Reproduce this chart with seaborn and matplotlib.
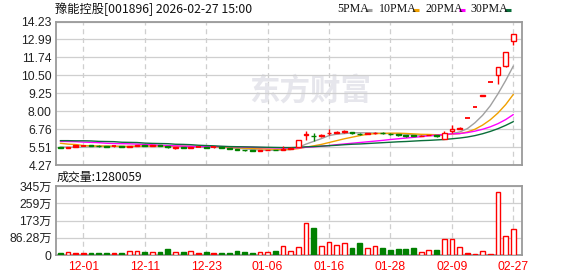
import numpy as np
import pandas as pd
import matplotlib
matplotlib.use('Agg')
import matplotlib.pyplot as plt
from matplotlib.patches import Rectangle
from matplotlib.lines import Line2D
import seaborn as sns

sns.set_style("white")
plt.rcParams['font.family'] = ['Liberation Sans', 'Noto Sans CJK SC', 'DejaVu Sans']

# ================= 数据 =================
trade_dates = ['11-26', '11-27', '11-28', '12-01', '12-02', '12-03', '12-04', '12-05', '12-08', '12-09',
               '12-10', '12-11', '12-12', '12-15', '12-16', '12-17', '12-18', '12-19', '12-22', '12-23',
               '12-24', '12-25', '12-26', '12-29', '12-30', '12-31', '01-05', '01-06', '01-07', '01-08',
               '01-09', '01-12', '01-13', '01-14', '01-15', '01-16', '01-19', '01-20', '01-21', '01-22',
               '01-23', '01-26', '01-27', '01-28', '01-29', '01-30', '02-02', '02-03', '02-04', '02-05',
               '02-06', '02-09', '02-10', '02-11', '02-12', '02-13', '02-24', '02-25', '02-26', '02-27']

open_px = [5.49, 5.46, 5.64, 5.63, 5.64, 5.60, 5.58, 5.57, 5.57, 5.54,
           5.60, 5.65, 5.59, 5.63, 5.60, 5.42, 5.50, 5.47, 5.53, 5.52,
           5.50, 5.49, 5.45, 5.40, 5.33, 5.28, 5.26, 5.29, 5.33, 5.30,
           5.38, 5.55, 6.33, 6.28, 6.28, 6.48, 6.50, 6.55, 6.56, 6.44,
           6.41, 6.46, 6.50, 6.45, 6.40, 6.34, 6.36, 6.28, 6.34, 6.33,
           6.08, 6.64, 6.80, 7.55, 8.30, 9.08, 10.04, 10.55, 11.12, 12.88]
high_px = [5.50, 5.53, 5.66, 5.64, 5.65, 5.63, 5.59, 5.58, 5.58, 5.62,
           5.68, 5.67, 5.64, 5.65, 5.61, 5.52, 5.52, 5.53, 5.55, 5.53,
           5.51, 5.50, 5.46, 5.41, 5.34, 5.29, 5.30, 5.33, 5.34, 5.60,
           5.50, 6.03, 6.63, 6.50, 6.44, 6.74, 6.62, 6.70, 6.58, 6.48,
           6.50, 6.58, 6.55, 6.47, 6.42, 6.36, 6.38, 6.33, 6.38, 6.35,
           6.60, 7.06, 6.92, 7.55, 8.30, 9.13, 10.04, 11.04, 12.14, 13.35]
low_px = [5.44, 5.45, 5.50, 5.58, 5.57, 5.55, 5.53, 5.54, 5.52, 5.53,
          5.59, 5.59, 5.58, 5.58, 5.48, 5.41, 5.46, 5.46, 5.50, 5.46,
          5.47, 5.44, 5.40, 5.31, 5.26, 5.21, 5.25, 5.28, 5.28, 5.29,
          5.36, 5.53, 6.00, 5.95, 6.18, 6.36, 6.47, 6.52, 6.44, 6.33,
          6.39, 6.43, 6.40, 6.38, 6.25, 6.20, 6.26, 6.26, 6.32, 6.20,
          6.04, 6.50, 6.76, 7.55, 8.30, 9.05, 10.04, 9.88, 11.05, 12.62]
close_px = [5.46, 5.50, 5.52, 5.62, 5.59, 5.57, 5.55, 5.56, 5.54, 5.60,
            5.66, 5.61, 5.63, 5.60, 5.49, 5.50, 5.47, 5.51, 5.52, 5.48,
            5.49, 5.45, 5.41, 5.33, 5.28, 5.26, 5.29, 5.32, 5.30, 5.37,
            5.48, 6.03, 6.40, 6.25, 6.33, 6.52, 6.55, 6.62, 6.47, 6.40,
            6.46, 6.52, 6.46, 6.42, 6.36, 6.30, 6.28, 6.31, 6.37, 6.25,
            6.52, 6.78, 6.86, 7.55, 8.30, 9.13, 10.04, 11.04, 12.14, 13.35]

# 成交量 (万)
volume_wan = [10, 13, 10, 10, 10, 10, 10, 10, 10, 18,
              18, 15, 13, 15, 30, 13, 15, 18, 10, 15,
              10, 10, 10, 19, 15, 10, 13, 13, 20, 43,
              18, 40, 158, 134, 47, 67, 52, 62, 37, 60,
              37, 47, 37, 24, 28, 28, 33, 17, 23, 23,
              78, 82, 42, 9, 4, 22, 4, 317, 97, 128.0059]

ma5 = [5.52, 5.51, 5.50, 5.52, 5.54, 5.56, 5.57, 5.58, 5.56, 5.56,
       5.58, 5.59, 5.61, 5.62, 5.60, 5.57, 5.54, 5.51, 5.50, 5.50,
       5.49, 5.49, 5.47, 5.43, 5.39, 5.35, 5.31, 5.30, 5.29, 5.31,
       5.35, 5.50, 5.72, 5.91, 6.10, 6.31, 6.41, 6.45, 6.50, 6.51,
       6.50, 6.49, 6.46, 6.45, 6.44, 6.41, 6.36, 6.33, 6.32, 6.30,
       6.35, 6.45, 6.56, 6.79, 7.20, 7.72, 8.38, 9.21, 10.13, 11.14]
ma10 = [5.78, 5.72, 5.69, 5.62, 5.60, 5.59, 5.58, 5.57, 5.56, 5.55,
        5.57, 5.58, 5.59, 5.59, 5.58, 5.57, 5.57, 5.56, 5.56, 5.55,
        5.53, 5.51, 5.49, 5.47, 5.44, 5.42, 5.40, 5.38, 5.36, 5.35,
        5.35, 5.41, 5.51, 5.60, 5.70, 5.83, 5.96, 6.09, 6.20, 6.31,
        6.40, 6.45, 6.46, 6.48, 6.48, 6.46, 6.43, 6.40, 6.39, 6.37,
        6.38, 6.41, 6.45, 6.56, 6.75, 7.04, 7.41, 7.88, 8.46, 9.17]
ma20 = [5.91, 5.90, 5.89, 5.86, 5.84, 5.82, 5.78, 5.76, 5.75, 5.74,
        5.72, 5.69, 5.67, 5.64, 5.62, 5.60, 5.58, 5.57, 5.56, 5.55,
        5.55, 5.55, 5.54, 5.53, 5.51, 5.50, 5.48, 5.47, 5.46, 5.45,
        5.44, 5.46, 5.50, 5.53, 5.57, 5.62, 5.68, 5.73, 5.78, 5.83,
        5.88, 5.93, 5.98, 6.04, 6.09, 6.14, 6.19, 6.24, 6.30, 6.34,
        6.39, 6.43, 6.45, 6.52, 6.62, 6.75, 6.92, 7.14, 7.42, 7.77]
ma30 = [5.96, 5.96, 5.95, 5.95, 5.94, 5.91, 5.90, 5.89, 5.85, 5.84,
        5.83, 5.79, 5.77, 5.76, 5.75, 5.71, 5.70, 5.68, 5.64, 5.62,
        5.60, 5.57, 5.55, 5.54, 5.53, 5.52, 5.51, 5.50, 5.49, 5.48,
        5.48, 5.50, 5.53, 5.55, 5.58, 5.61, 5.64, 5.68, 5.71, 5.73,
        5.76, 5.79, 5.82, 5.85, 5.88, 5.90, 5.93, 5.96, 5.98, 6.01,
        6.04, 6.09, 6.14, 6.21, 6.31, 6.44, 6.60, 6.79, 7.02, 7.28]

price_ticks = [4.27, 5.51, 6.76, 8.00, 9.25, 10.50, 11.74, 12.99, 14.23]
vol_ticks = [0, 86.28, 172.5, 258.75, 345]
vol_tick_labels = ['0', '86.28万', '173万', '259万', '345万']
date_ticks = ['12-01', '12-11', '12-23', '01-06', '01-16', '01-28', '02-09', '02-27']

title_text = '豫能控股[001896] 2026-02-27 15:00'
vol_title = '成交量:1280059'
ma_names = ['5PMA', '10PMA', '20PMA', '30PMA']

# ================= 样式 =================
RED = '#ff0000'
GREEN = '#008000'
MA_COLORS = ['#a0a0a0', '#f0a000', '#ff00ff', '#0a6e3a']
FRAME = '#9a9a9a'
GRID = '#cfcfcf'

df = pd.DataFrame({'date': trade_dates, 'open': open_px, 'high': high_px, 'low': low_px,
                   'close': close_px, 'vol': volume_wan,
                   'ma5': ma5, 'ma10': ma10, 'ma20': ma20, 'ma30': ma30})
df['x'] = np.arange(len(df))
prev_close = df['close'].shift(1).fillna(df['open'])
df['up'] = df['close'] >= prev_close
df['hollow'] = df['up'] & (df['close'] > df['open'])
df['color'] = np.where(df['up'], RED, GREEN)

W, H = 578, 276
fig = plt.figure(figsize=(W / 100, H / 100), dpi=100)
ax_p = fig.add_axes([56 / W, 1 - 165 / H, 466 / W, 143.5 / H])
ax_v = fig.add_axes([56 / W, 1 - 255 / H, 466 / W, 69 / H], sharex=ax_p)

tick_pos = [trade_dates.index(d) for d in date_ticks]

for ax in (ax_p, ax_v):
    for s in ax.spines.values():
        s.set_color(FRAME)
        s.set_linewidth(1.3)
    ax.tick_params(length=0)
    for t in tick_pos:
        ax.axvline(t, color=GRID, lw=0.9, ls=(0, (4, 3)), zorder=0)

# 水印
ax_p.text(0.545, 0.52, '东方财富', transform=ax_p.transAxes, ha='center', va='center',
          fontsize=22, fontweight='bold', color='#e6e6ec', family=['Noto Sans CJK SC'], zorder=0)

# --- K线 ---
bw = 0.62
for _, r in df.iterrows():
    ax_p.vlines(r['x'], r['low'], r['high'], color=r['color'], lw=1.0, zorder=3)
    lo = min(r['open'], r['close'])
    hi = max(r['open'], r['close'])
    if hi - lo < 0.02:
        ax_p.hlines(lo, r['x'] - bw / 2, r['x'] + bw / 2, color=r['color'], lw=1.3, zorder=4)
    else:
        face = 'white' if r['hollow'] else r['color']
        ax_p.add_patch(Rectangle((r['x'] - bw / 2, lo), bw, hi - lo, facecolor=face,
                                 edgecolor=r['color'], lw=1.0, zorder=4))

# --- 均线 ---
for col, c in zip(['ma5', 'ma10', 'ma20', 'ma30'], MA_COLORS):
    sns.lineplot(data=df, x='x', y=col, ax=ax_p, color=c, lw=1.0, legend=False, zorder=2)

ax_p.set_ylim(price_ticks[0], price_ticks[-1])
ax_p.set_xlim(-0.56, 60.13)
ax_p.set_yticks(price_ticks)
ax_p.set_yticklabels([f'{v:.2f}' for v in price_ticks], fontsize=8.7, color='#222222')
ax_p.yaxis.grid(True, color=GRID, lw=0.9, ls='-')
ax_p.set_axisbelow(True)
ax_p.set_xlabel('')
ax_p.set_ylabel('')
ax_p.tick_params(axis='x', labelbottom=False)
ax_p.tick_params(axis='y', pad=3)

# --- 成交量 ---
faces = ['white' if h else c for h, c in zip(df['hollow'], df['color'])]
ax_v.bar(df['x'], df['vol'], width=bw, color=faces, edgecolor=df['color'], lw=1.0, zorder=3)
ax_v.set_ylim(vol_ticks[0], vol_ticks[-1])
ax_v.set_yticks(vol_ticks)
ax_v.set_yticklabels(vol_tick_labels, fontsize=8.7, color='#222222')
ax_v.yaxis.grid(True, color=GRID, lw=0.9, ls='-')
ax_v.set_axisbelow(True)
ax_v.set_xticks(tick_pos)
ax_v.set_xticklabels(date_ticks, fontsize=8.7, color=RED)
ax_v.tick_params(axis='x', pad=4)
ax_v.tick_params(axis='y', pad=3)

# --- 标题与图例 ---
fig.text(55 / W, 1 - 9 / H, title_text, ha='left', va='center', fontsize=8.8,
         color='#111111', family=['Noto Sans CJK SC'])
fig.text(57 / W, 1 - 177 / H, vol_title, ha='left', va='center', fontsize=8.6,
         color='#111111', family=['Noto Sans CJK SC'])

legend_x = [337, 379, 425, 470]
dash_x = [366, 413, 459, 505]
for name, lx, dx, c in zip(ma_names, legend_x, dash_x, MA_COLORS):
    fig.text(lx / W, 1 - 9.5 / H, name, ha='left', va='center', fontsize=8.6,
             color='#111111', family=['Liberation Serif'])
    fig.add_artist(Line2D([dx / W, (dx + 6) / W], [1 - 10 / H, 1 - 10 / H],
                          color=c, lw=2.2, solid_capstyle='butt'))

fig.savefig('out.png', dpi=100)
